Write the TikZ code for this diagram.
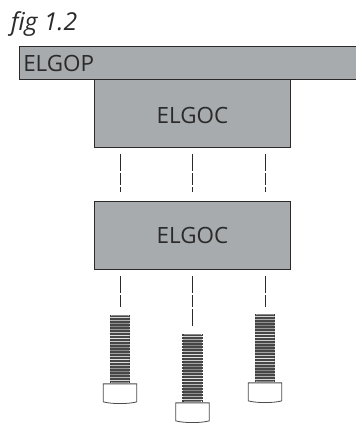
\documentclass[tikz,border=0pt]{standalone}
\usepackage{fontspec}
\setmainfont{Open Sans}
\usetikzlibrary{calc}

\definecolor{platefill}{HTML}{A7ABAD}
\definecolor{inkdark}{HTML}{2B2A2B}

\begin{document}
\begin{tikzpicture}[
    x=.75pt, y=-.75pt,
    plate/.style={
        % The shape:
        rectangle,
        anchor=north west,
        % The border
        line width=.7pt,
        draw=inkdark,
        % The filling
        fill=platefill,
        % Font
        text=inkdark,
        font=\fontsize{16.8}{18}\selectfont,
        inner sep=0pt
    },
    axis/.style={
        line width=.45pt,
        draw=inkdark,
        dash pattern=on 12.5pt off 2pt on 8.5pt off 2pt
    },
    shaft/.style={
        rectangle,
        anchor=north,
        minimum width=14pt,
        minimum height=50.5pt,
        inner sep=0pt,
        fill=black!72,
        rounded corners=.8pt
    },
    thread/.style={
        line width=.4pt
    },
    teeth/.style={
        line width=.9pt,
        draw=black!75,
        dash pattern=on 1.3pt off .95pt
    },
    head/.style={
        line width=.6pt,
        draw=black!70,
        fill=white
    }]

    \useasboundingbox (0,0) rectangle (356,424);

    \node [font=\itshape\fontsize{18.5}{20}\selectfont, text=inkdark, inner sep=0pt] (figlabel) at (44,24.5) {fig 1.2};

    % The plates
    \node [plate, minimum width=257pt, minimum height=24.4pt] (elgop) at (18.5,46.5) {};
    \node [anchor=west, text=inkdark, font=\fontsize{16.8}{18}\selectfont, inner sep=0pt] (eloplabel) at (23,63.5) {ELGOP};
    \node [plate, minimum width=147pt, minimum height=51pt, text height=15.4pt] (elgoctop) at (94,79) {ELGOC};
    \node [plate, minimum width=147pt, minimum height=51pt, text height=13.5pt] (elgocbottom) at (94,200.5) {ELGOC};

    % The bolts
    \foreach \name/\x/\y/\axisend in {left/120/315/307, middle/192.5/334/328, right/265/314/307}
    {
        \node [shaft] (shaft\name) at (\x,\y) {};
        \draw [teeth] (shaft\name.north west) -- (shaft\name.south west);
        \draw [teeth] (shaft\name.north east) -- (shaft\name.south east);
        \foreach \t in {1,...,22}
        {
            \pgfmathtruncatemacro{\threadshade}{48+34*cos(\t*47)}
            \draw [thread, draw=white!\threadshade!black!55] ($(shaft\name.north west)+(0,\t*3-.5)$) -- ++(18.7,0);
        }
        \draw [head, shift={(shaft\name.south)}] (-16.8,1) -- (16.8,1) -- (16.8,19)
            .. controls (8,21.3) and (-8,21.3) .. (-16.8,19) -- cycle;

        % The axes
        \coordinate (gaptop\name) at (\x,154);
        \coordinate (gapbottom\name) at (\x,192);
        \coordinate (axistop\name) at (\x,276);
        \coordinate (axisbottom\name) at (\x,\axisend);
        \draw [axis] (gaptop\name) -- (gapbottom\name);
        \draw [axis] (axistop\name) -- (axisbottom\name);
    }
\end{tikzpicture}
\end{document}
